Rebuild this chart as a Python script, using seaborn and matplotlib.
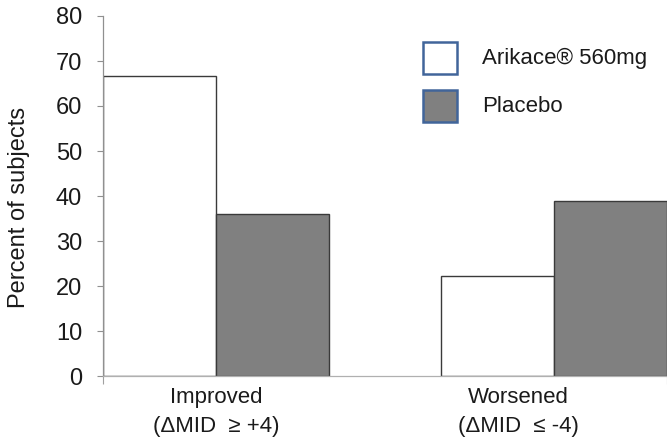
import matplotlib
matplotlib.use("Agg")
import matplotlib.pyplot as plt
from matplotlib.patches import Rectangle
import seaborn as sns
import pandas as pd

# Data
outcomes = ["Improved", "Worsened"]
outcome_labels = ["Improved\n(\u0394MID  \u2265 +4)", "Worsened\n(\u0394MID  \u2264 -4)"]
groups = ["Arikace\u00ae 560mg", "Placebo"]
arikace = [66.7, 22.2]
placebo = [36.0, 38.9]
y_ticks = [0, 10, 20, 30, 40, 50, 60, 70, 80]

df = pd.DataFrame({
    "Outcome": outcomes * 2,
    "Group": [groups[0]] * 2 + [groups[1]] * 2,
    "Percent": arikace + placebo,
})

sns.set_theme(style="white")
plt.rcParams["font.family"] = ["Liberation Sans", "DejaVu Sans"]

W, H = 667, 440
fig = plt.figure(figsize=(W / 100, H / 100), dpi=100)
ax = fig.add_axes([103 / W, 64 / H, 564 / W, 360 / H])

colors = {groups[0]: "#FFFFFF", groups[1]: "#808080"}
sns.barplot(data=df, x="Outcome", y="Percent", hue="Group", order=outcomes,
            hue_order=groups, palette=colors, width=0.669, saturation=1,
            edgecolor="#3a3a3a", linewidth=1.0, ax=ax, legend=False)

ax.set_ylim(0, 80)
ax.set_xlim(-0.3345, 1.3345)
ax.set_yticks(y_ticks)
ax.tick_params(axis="y", direction="out", length=4.5, width=0.8, color="#909090",
               pad=10.5, labelsize=17, labelcolor="#1a1a1a", left=True)

ax.set_xticks([0, 0.895])
ax.set_xticklabels(outcome_labels, fontsize=16, color="#1a1a1a", linespacing=1.5)
ax.tick_params(axis="x", length=0, pad=8)
ax.set_xticks([-0.3345, 1.3345], minor=True)
ax.tick_params(axis="x", which="minor", direction="out", length=6, width=0.8,
               color="#a0a0a0", bottom=True)

ax.set_xlabel("")
ax.set_ylabel("Percent of subjects", fontsize=17, color="#1a1a1a")
ax.yaxis.set_label_coords(-0.129, 0.467)

for side in ["top", "right"]:
    ax.spines[side].set_visible(False)
ax.spines["left"].set_color("#909090")
ax.spines["left"].set_linewidth(0.9)
ax.spines["bottom"].set_color("#b0b0b0")
ax.spines["bottom"].set_linewidth(0.9)

# Legend: swatch boxes and labels placed in figure pixel space
swatch_top = [42, 90]
for top, grp in zip(swatch_top, groups):
    fig.patches.append(Rectangle((423 / W, 1 - (top + 32) / H), 34 / W, 32 / H,
                                 transform=fig.transFigure, facecolor=colors[grp],
                                 edgecolor="#41659a", linewidth=1.8))
    fig.text(482 / W, 1 - (top + 16) / H, grp, fontsize=16, color="#1a1a1a",
             ha="left", va="center")

fig.savefig("out.png", dpi=100)
